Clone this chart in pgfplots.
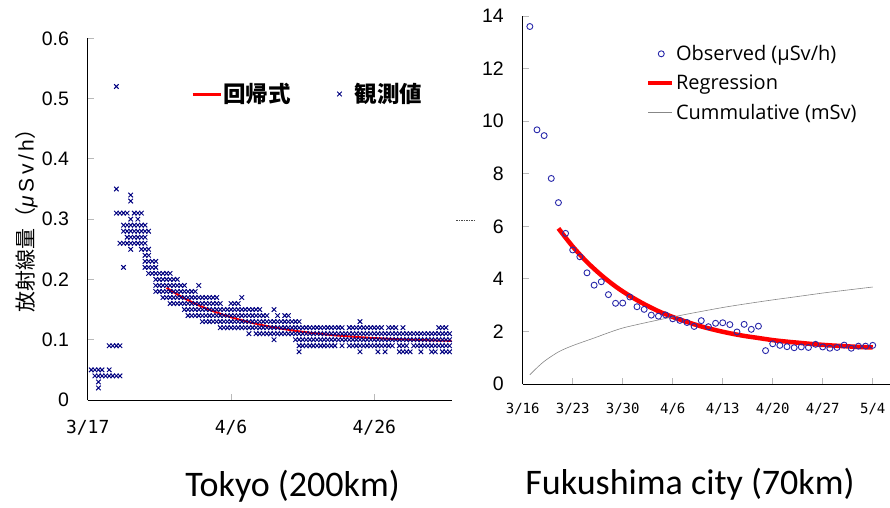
\documentclass[border=0pt]{standalone}
\usepackage{fontspec}
\setmainfont{Liberation Sans}
\newfontfamily\jp{Noto Sans CJK JP}
\newfontfamily\calfont{Carlito}
\newfontfamily\osans{Open Sans}
\newfontfamily\dmono{DejaVu Sans Mono}
\usepackage{pgfplots}
\usepackage{pgfplotstable}
\pgfplotsset{compat=1.18}
\definecolor{navy}{RGB}{0,0,128}
\definecolor{obsblue}{RGB}{40,40,170}
\definecolor{tickgray}{RGB}{185,185,185}
\definecolor{cumgray}{RGB}{135,135,135}

\pgfplotsset{
  legline28/.style={legend image code/.code={\draw[##1] (0pt,0pt) -- (28pt,0pt);}},
  legline24/.style={legend image code/.code={\draw[##1] (0pt,0pt) -- (24pt,0pt);}},
  legmark/.style={legend image code/.code={\path[draw=none, fill=none] (0pt,-2pt) rectangle (24pt,2pt); \draw[##1] plot coordinates {(13pt,0pt)};}},
  legmarkx/.style={legend image code/.code={\path[draw=none, fill=none] (0pt,-2pt) rectangle (18pt,2pt); \draw[##1] plot coordinates {(4pt,0pt)};}},
  tk/.style={only marks, mark=x, navy, mark size=3.2pt, line width=0.95pt, forget plot},
}

\pgfplotstableread{
x a b c d e f g h
0.5 0.05 nan nan nan nan nan nan nan
1.0 0.05 0.04 nan nan nan nan nan nan
1.5 0.05 0.04 0.03 0.02 nan nan nan nan
2.0 0.05 0.04 nan nan nan nan nan nan
2.5 0.04 nan nan nan nan nan nan nan
3.0 0.05 0.04 0.09 nan nan nan nan nan
3.5 0.04 0.09 nan nan nan nan nan nan
4.0 0.04 0.09 0.52 0.35 0.31 nan nan nan
4.5 0.04 0.09 0.31 0.26 nan nan nan nan
5.0 0.31 0.29 0.28 0.26 0.22 nan nan nan
5.5 0.31 0.29 0.28 0.27 0.26 nan nan nan
6.0 0.34 0.33 0.30 0.29 0.28 0.27 0.26 0.25
6.5 0.31 0.29 0.28 0.27 0.26 nan nan nan
7.0 0.31 0.30 0.29 0.28 0.27 0.26 nan nan
7.5 0.31 0.29 0.28 0.27 0.26 0.25 nan nan
8.0 0.29 0.28 0.27 0.26 0.25 0.24 0.23 0.22
8.5 0.28 0.25 0.24 0.23 0.22 0.21 nan nan
9.0 0.23 0.22 0.21 nan nan nan nan nan
9.5 0.23 0.22 0.21 0.20 0.19 0.18 nan nan
10.0 0.21 0.20 0.19 0.18 nan nan nan nan
10.5 0.21 0.20 0.19 0.18 0.17 nan nan nan
11.0 0.21 0.20 0.19 0.18 0.17 nan nan nan
11.5 0.21 0.20 0.19 0.18 0.17 0.16 nan nan
12.0 0.20 0.19 0.18 0.17 0.16 nan nan nan
12.5 0.20 0.19 0.18 0.17 0.16 nan nan nan
13.0 0.19 0.18 0.17 0.16 nan nan nan nan
13.5 0.19 0.18 0.17 0.16 0.15 nan nan nan
14.0 0.18 0.17 0.16 0.15 0.14 nan nan nan
14.5 0.18 0.17 0.16 0.15 0.14 nan nan nan
15.0 0.18 0.17 0.16 0.15 0.14 nan nan nan
15.5 0.19 0.17 0.16 0.15 0.14 nan nan nan
16.0 0.17 0.16 0.15 0.14 0.13 nan nan nan
16.5 0.17 0.16 0.15 0.14 0.13 nan nan nan
17.0 0.17 0.16 0.15 0.14 0.13 nan nan nan
17.5 0.17 0.16 0.15 0.14 0.13 nan nan nan
18.0 0.17 0.16 0.15 0.14 0.13 nan nan nan
18.5 0.16 0.15 0.14 0.13 0.12 nan nan nan
19.0 0.15 0.14 0.13 0.12 nan nan nan nan
19.5 0.15 0.14 0.13 0.12 nan nan nan nan
20.0 0.16 0.15 0.14 0.13 0.12 nan nan nan
20.5 0.16 0.15 0.14 0.13 0.12 nan nan nan
21.0 0.16 0.15 0.14 0.13 0.12 nan nan nan
21.5 0.17 0.15 0.14 0.13 0.12 nan nan nan
22.0 0.15 0.14 0.13 0.12 nan nan nan nan
22.5 0.15 0.14 0.13 0.12 0.11 nan nan nan
23.0 0.15 0.14 0.13 0.12 nan nan nan nan
23.5 0.15 0.14 0.13 0.12 0.11 nan nan nan
24.0 0.15 0.14 0.13 0.12 0.11 nan nan nan
24.5 0.14 0.13 0.12 0.11 nan nan nan nan
25.0 0.14 0.13 0.12 0.11 nan nan nan nan
25.5 0.13 0.12 0.11 nan nan nan nan nan
26.0 0.15 0.13 0.12 0.11 0.10 nan nan nan
26.5 0.14 0.13 0.12 0.11 nan nan nan nan
27.0 0.13 0.12 0.11 nan nan nan nan nan
27.5 0.14 0.13 0.12 0.11 nan nan nan nan
28.0 0.14 0.13 0.12 0.11 nan nan nan nan
28.5 0.13 0.12 0.11 nan nan nan nan nan
29.0 0.13 0.12 0.11 0.10 nan nan nan nan
29.5 0.13 0.12 0.11 0.10 0.09 0.08 nan nan
30.0 0.12 0.11 0.10 0.09 nan nan nan nan
30.5 0.12 0.11 0.10 0.09 nan nan nan nan
31.0 0.12 0.11 0.10 0.09 nan nan nan nan
31.5 0.12 0.11 0.10 0.09 nan nan nan nan
32.0 0.12 0.11 0.10 0.09 nan nan nan nan
32.5 0.12 0.11 0.10 0.09 nan nan nan nan
33.0 0.12 0.11 0.10 0.09 nan nan nan nan
33.5 0.12 0.11 0.10 0.09 nan nan nan nan
34.0 0.12 0.11 0.10 0.09 nan nan nan nan
34.5 0.12 0.11 0.10 0.09 nan nan nan nan
35.0 0.12 0.11 0.10 nan nan nan nan nan
35.5 0.12 0.11 0.10 0.09 nan nan nan nan
36.0 0.11 0.10 nan nan nan nan nan nan
36.5 0.12 0.11 0.10 0.09 nan nan nan nan
37.0 0.12 0.11 0.10 0.09 nan nan nan nan
37.5 0.12 0.11 0.10 0.09 nan nan nan nan
38.0 0.13 0.12 0.11 0.10 0.09 0.08 nan nan
38.5 0.12 0.11 0.10 0.09 nan nan nan nan
39.0 0.12 0.11 0.10 0.09 nan nan nan nan
39.5 0.12 0.11 0.10 0.09 nan nan nan nan
40.0 0.12 0.11 0.10 0.09 nan nan nan nan
40.5 0.12 0.11 0.10 0.09 0.08 nan nan nan
41.0 0.12 0.11 0.10 0.09 nan nan nan nan
41.5 0.11 0.10 0.09 0.08 nan nan nan nan
42.0 0.12 0.11 0.10 0.09 nan nan nan nan
42.5 0.12 0.11 0.10 0.09 nan nan nan nan
43.0 0.12 0.11 0.10 nan nan nan nan nan
43.5 0.11 0.10 0.09 0.08 nan nan nan nan
44.0 0.12 0.11 0.10 0.09 0.08 nan nan nan
44.5 0.11 0.10 0.09 0.08 nan nan nan nan
45.0 0.11 0.10 0.08 nan nan nan nan nan
45.5 0.11 0.10 0.09 nan nan nan nan nan
46.0 0.11 0.10 0.09 nan nan nan nan nan
46.5 0.11 0.10 0.09 0.08 nan nan nan nan
47.0 0.11 0.10 0.09 nan nan nan nan nan
47.5 0.11 0.10 0.09 nan nan nan nan nan
48.0 0.11 0.10 0.09 0.08 nan nan nan nan
48.5 0.11 0.10 0.09 0.08 nan nan nan nan
49.0 0.12 0.11 0.10 0.09 nan nan nan nan
49.5 0.12 0.11 0.10 0.09 0.08 nan nan nan
50.0 0.12 0.11 0.10 0.09 0.08 nan nan nan
50.5 0.11 0.10 0.09 0.08 nan nan nan nan
}\tokyo

\pgfplotstableread{
day obs
1 13.60
2 9.67
3 9.45
4 7.82
5 6.90
6 5.73
7 5.10
8 4.84
9 4.23
10 3.76
11 3.89
12 3.40
13 3.07
14 3.08
15 3.31
16 2.94
17 2.84
18 2.62
19 2.58
20 2.63
21 2.48
22 2.42
23 2.34
24 2.19
25 2.41
26 2.18
27 2.31
28 2.33
29 2.26
30 1.98
31 2.27
32 2.08
33 2.20
34 1.27
35 1.53
36 1.47
37 1.42
38 1.38
39 1.41
40 1.39
41 1.51
42 1.41
43 1.36
44 1.39
45 1.48
46 1.36
47 1.44
48 1.44
49 1.47
}\fukuobs

\pgfplotstableread{
day cum
1 0.35
2 0.62
3 0.86
4 1.05
5 1.22
6 1.35
7 1.46
8 1.56
10 1.75
12 1.95
14 2.13
17 2.32
21 2.55
24 2.71
28 2.91
31 3.04
35 3.20
38 3.31
42 3.46
45 3.56
49 3.69
}\fukucum

\begin{document}
\begin{tikzpicture}[x=1pt,y=1pt]
\useasboundingbox (0,0) rectangle (890,507);

% ---------------- Tokyo ----------------
\begin{axis}[
  at={(87.7pt,107pt)}, anchor=south west,
  scale only axis, width=364pt, height=361.7pt,
  xmin=0, xmax=50.8, ymin=0, ymax=0.6,
  axis x line*=bottom, axis y line*=left,
  axis line style={black, line width=1pt},
  tick align=inside, major tick length=6pt,
  tick style={tickgray, line width=0.8pt},
  xtick={0,20,40}, xticklabels={3/17,4/6,4/26},
  ytick={0,0.1,0.2,0.3,0.4,0.5,0.6},
  yticklabels={0,0.1,0.2,0.3,0.4,0.5,0.6},
  xtick pos=bottom, ytick pos=left,
  xticklabel style={font=\dmono\fontsize{18}{18}\selectfont, anchor=base, inner sep=0pt, yshift=-33pt},
  yticklabel style={font=\fontsize{19.5}{19.5}\selectfont, anchor=east, inner sep=0pt, xshift=-18.5pt},
  ylabel={{\jp 放射線量（}{\itshape μ}\,S\,v\,/\,h{\jp ）}},
  ylabel style={at={(axis description cs:-0.168,0.51)}, anchor=center, rotate=0, font=\fontsize{21}{21}\selectfont},
  legend style={at={(axis description cs:0.275,0.846)}, anchor=west, legend columns=2,
    draw=none, fill=none, font=\jp\bfseries\fontsize{22.5}{22.5}\selectfont,
    nodes={inner sep=1pt},
    /tikz/every even column/.append style={column sep=44pt}},
  clip=false,
]
\addlegendimage{red, line width=3pt, legline28}
\addlegendentry{回帰式}
\addlegendimage{only marks, mark=x, navy, mark size=3.2pt, line width=0.95pt, legmarkx}
\addlegendentry{観測値}
\addplot[tk] table[x=x, y=a] {\tokyo};
\addplot[tk] table[x=x, y=b] {\tokyo};
\addplot[tk] table[x=x, y=c] {\tokyo};
\addplot[tk] table[x=x, y=d] {\tokyo};
\addplot[tk] table[x=x, y=e] {\tokyo};
\addplot[tk] table[x=x, y=f] {\tokyo};
\addplot[tk] table[x=x, y=g] {\tokyo};
\addplot[tk] table[x=x, y=h] {\tokyo};
\addplot[red, line width=2pt, smooth, forget plot] coordinates {
(11,0.186) (13,0.1718) (15,0.1598) (17,0.1496) (19,0.1411) (21,0.1339)
(23,0.1278) (25,0.1227) (27,0.1184) (29,0.1147) (31,0.1116) (33,0.1090)
(35,0.1068) (37,0.1050) (39,0.1034) (41,0.1021) (43,0.1010) (45,0.1001)
(47,0.0993) (49,0.0986) (50.8,0.0981)};
\end{axis}

% ---------------- Fukushima ----------------
\begin{axis}[
  at={(522.7pt,123pt)}, anchor=south west,
  scale only axis, width=367.3pt, height=368pt,
  xmin=0, xmax=51.42, ymin=0, ymax=14,
  axis x line*=bottom, axis y line*=left,
  axis line style={black, line width=1pt},
  tick align=inside, major tick length=6pt,
  tick style={tickgray, line width=0.8pt},
  xtick={0,7,14,21,28,35,42,49},
  xticklabels={3/16,3/23,3/30,4/6,4/13,4/20,4/27,5/4},
  ytick={0,2,4,6,8,10,12,14},
  xtick pos=bottom, ytick pos=left,
  /pgf/number format/assume math mode=true,
  xticklabel style={font=\dmono\fontsize{14}{14}\selectfont, anchor=base, inner sep=0pt, yshift=-29pt},
  yticklabel style={font=\fontsize{19.5}{19.5}\selectfont, anchor=east, inner sep=0pt, xshift=-18.7pt},
  legend style={at={(axis description cs:0.327,0.93)}, anchor=north west,
    draw=none, fill=none, font=\osans\fontsize{20}{20}\selectfont,
    legend cell align=left, row sep=10pt,
    nodes={inner sep=1.5pt}},
  clip=false,
]
\addplot[only marks, mark=o, obsblue, mark size=3pt, line width=0.9pt, legmark]
  table[x=day, y=obs] {\fukuobs};
\addlegendentry{Observed (μSv/h)}
\addplot[red, line width=4.5pt, smooth, legline24] coordinates {
(5,5.92) (7,5.23) (9,4.64) (11,4.14) (13,3.71) (15,3.35) (17,3.04) (19,2.77)
(21,2.55) (23,2.36) (25,2.19) (27,2.05) (29,1.93) (31,1.83) (33,1.75) (35,1.67)
(37,1.61) (39,1.56) (41,1.51) (43,1.47) (45,1.44) (47,1.41) (49,1.39)};
\addlegendentry{Regression}
\addplot[cumgray, line width=0.6pt, smooth, legline24]
  table[x=day, y=cum] {\fukucum};
\addlegendentry{Cummulative (mSv)}
\end{axis}

\draw[black!70, line width=0.6pt, dash pattern=on 1.5pt off 1pt] (456,286.3) -- (474.3,286.3);

\node[anchor=base, font=\calfont\fontsize{36}{36}\selectfont] at (292.5,11) {Tokyo (200km)};
\node[anchor=base, font=\calfont\fontsize{36}{36}\selectfont] at (690,13) {Fukushima city (70km)};
\end{tikzpicture}
\end{document}
